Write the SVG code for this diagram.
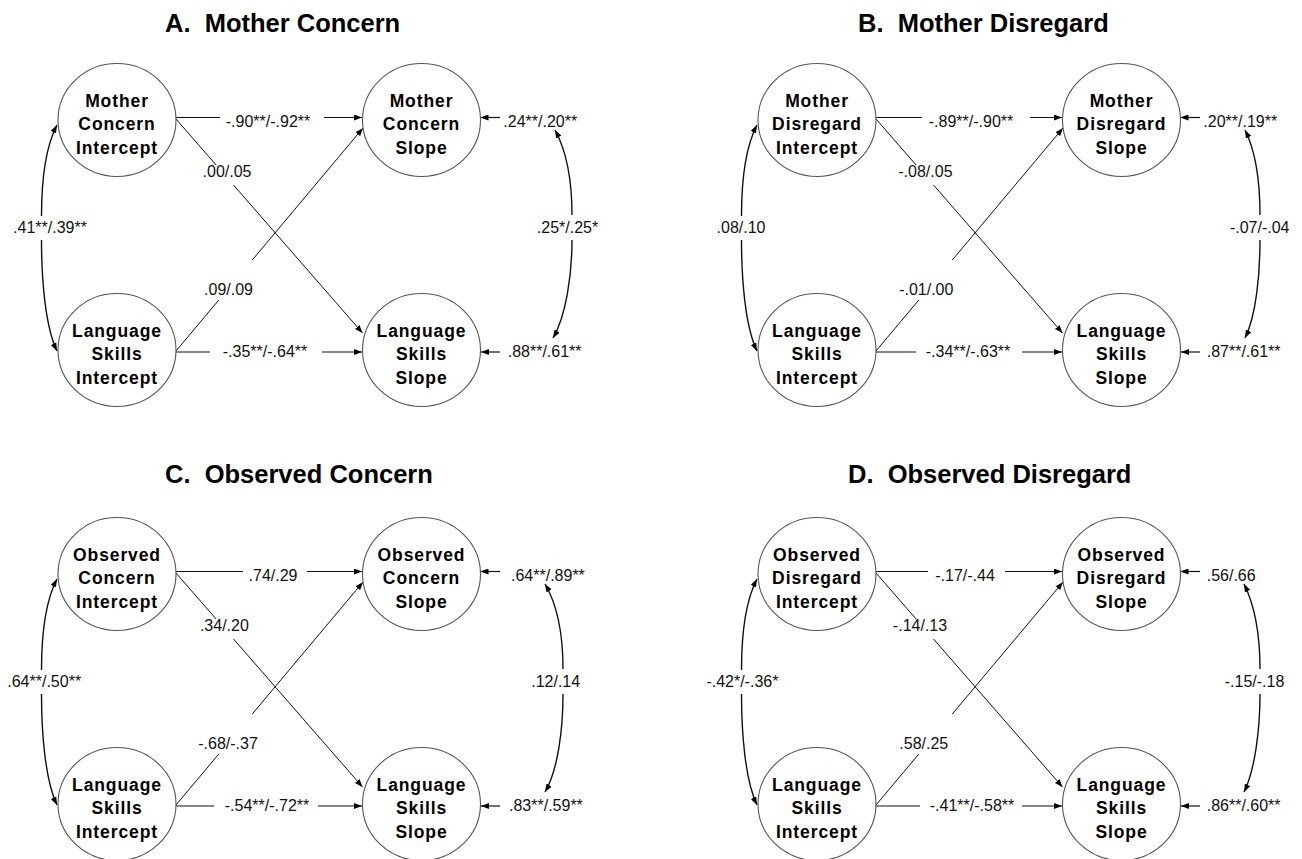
<svg xmlns="http://www.w3.org/2000/svg" width="1302" height="859" viewBox="0 0 1302 859">
<style>
.bg{fill:#fff}
.title{font-family:"Liberation Sans",Arial,sans-serif;font-weight:bold;font-size:25.5px;fill:#000}
.node ellipse{fill:#fff;stroke:#555;stroke-width:1.1}
.node text{font-family:"Liberation Sans",Arial,sans-serif;font-weight:bold;font-size:17.5px;letter-spacing:0.9px;fill:#000;text-anchor:middle}
.conn path{fill:none;stroke:#111;stroke-width:1.2}
.conn .d{stroke-width:1}
.conn .c{stroke-width:1.4}
.lbl{font-family:"Liberation Sans",Arial,sans-serif;font-size:16px;fill:#111}
.m{text-anchor:middle}
</style>
<defs>
<marker id="ah" viewBox="0 0 8 6" refX="8" refY="3" markerWidth="8" markerHeight="6" markerUnits="userSpaceOnUse" orient="auto-start-reverse"><path d="M0,0 L8,3 L0,6 z" fill="#000"/></marker>
</defs>
<rect class="bg" x="0" y="0" width="1302" height="859"/>

<!-- Panel A -->
<g id="panelA">
<text class="title" x="165" y="31.5" xml:space="preserve">A.  Mother Concern</text>
<g id="A-connectors" class="conn">
<path d="M176,117.5 H220 M324,117.5 H362" marker-end="url(#ah)"/>
<path d="M176,352 H210 M322,352 H362" marker-end="url(#ah)"/>
<path class="d" d="M176,119 L216.1,165"/>
<path class="d" d="M233.5,185 L362.5,333" marker-end="url(#ah)"/>
<path class="d" d="M176,351 L218.8,300"/>
<path class="d" d="M252.3,260 L363,128" marker-end="url(#ah)"/>
<path class="c" d="M57,125 C45,148 41.5,180 41.5,216" marker-start="url(#ah)"/>
<path class="c" d="M41.5,240 C41.5,278 45,326 57,351" marker-end="url(#ah)"/>
<path class="c" d="M555,130 C567,152 572,182 572,215" marker-start="url(#ah)"/>
<path class="c" d="M572,240 C572,275 566,316 553,338" marker-end="url(#ah)"/>
<path d="M500,117.5 H480.5" marker-end="url(#ah)"/>
<path d="M500,352 H481" marker-end="url(#ah)"/>
<text class="lbl m" x="268" y="126.5">-.90**/-.92**</text>
<text class="lbl m" x="265" y="357">-.35**/-.64**</text>
<text class="lbl m" x="227" y="176.7">.00/.05</text>
<text class="lbl m" x="228.5" y="295">.09/.09</text>
<text class="lbl m" x="50" y="233.3">.41**/.39**</text>
<text class="lbl m" x="567.5" y="233.3">.25*/.25*</text>
<text class="lbl" x="503.3" y="126.7">.24**/.20**</text>
<text class="lbl" x="507.7" y="356.7">.88**/.61**</text>
</g>
<g id="A-mother-concern-intercept" class="node"><ellipse cx="117" cy="120" rx="59" ry="56.5"/><text x="117" y="107">Mother</text><text x="117" y="130.3">Concern</text><text x="117" y="153.6">Intercept</text></g>
<g id="A-mother-concern-slope" class="node"><ellipse cx="421.5" cy="120" rx="59" ry="56.5"/><text x="421.5" y="107">Mother</text><text x="421.5" y="130.3">Concern</text><text x="421.5" y="153.6">Slope</text></g>
<g id="A-language-skills-intercept" class="node"><ellipse cx="117" cy="350" rx="59" ry="56.5"/><text x="117" y="337">Language</text><text x="117" y="360.3">Skills</text><text x="117" y="383.6">Intercept</text></g>
<g id="A-language-skills-slope" class="node"><ellipse cx="421.5" cy="350" rx="59" ry="56.5"/><text x="421.5" y="337">Language</text><text x="421.5" y="360.3">Skills</text><text x="421.5" y="383.6">Slope</text></g>
</g>

<!-- Panel B -->
<g id="panelB" transform="translate(700,0)">
<text class="title" x="158" y="31.5" xml:space="preserve">B.  Mother Disregard</text>
<g id="B-connectors" class="conn">
<path d="M176,117.5 H222 M330,117.5 H362" marker-end="url(#ah)"/>
<path d="M176,352 H216 M322,352 H362" marker-end="url(#ah)"/>
<path class="d" d="M176,119 L216.1,165"/>
<path class="d" d="M233.5,185 L362.5,333" marker-end="url(#ah)"/>
<path class="d" d="M176,351 L218.8,300"/>
<path class="d" d="M252.3,260 L363,128" marker-end="url(#ah)"/>
<path class="c" d="M57,125 C45,148 41.5,180 41.5,216" marker-start="url(#ah)"/>
<path class="c" d="M41.5,240 C41.5,278 45,326 57,351" marker-end="url(#ah)"/>
<path class="c" d="M545,130 C556,152 560,182 560,215" marker-start="url(#ah)"/>
<path class="c" d="M560,240 C560,275 556,316 545,338" marker-end="url(#ah)"/>
<path d="M500,117.5 H480.5" marker-end="url(#ah)"/>
<path d="M500,352 H481" marker-end="url(#ah)"/>
<text class="lbl m" x="271" y="126.5">-.89**/-.90**</text>
<text class="lbl m" x="268" y="357">-.34**/-.63**</text>
<text class="lbl m" x="225.4" y="176.7">-.08/.05</text>
<text class="lbl m" x="226.3" y="295">-.01/.00</text>
<text class="lbl m" x="41" y="233.3">.08/.10</text>
<text class="lbl m" x="559.7" y="233.3">-.07/-.04</text>
<text class="lbl" x="503.3" y="126.7">.20**/.19**</text>
<text class="lbl" x="506.7" y="356.7">.87**/.61**</text>
</g>
<g id="B-mother-disregard-intercept" class="node"><ellipse cx="117" cy="120" rx="59" ry="56.5"/><text x="117" y="107">Mother</text><text x="117" y="130.3">Disregard</text><text x="117" y="153.6">Intercept</text></g>
<g id="B-mother-disregard-slope" class="node"><ellipse cx="421.5" cy="120" rx="59" ry="56.5"/><text x="421.5" y="107">Mother</text><text x="421.5" y="130.3">Disregard</text><text x="421.5" y="153.6">Slope</text></g>
<g id="B-language-skills-intercept" class="node"><ellipse cx="117" cy="350" rx="59" ry="56.5"/><text x="117" y="337">Language</text><text x="117" y="360.3">Skills</text><text x="117" y="383.6">Intercept</text></g>
<g id="B-language-skills-slope" class="node"><ellipse cx="421.5" cy="350" rx="59" ry="56.5"/><text x="421.5" y="337">Language</text><text x="421.5" y="360.3">Skills</text><text x="421.5" y="383.6">Slope</text></g>
</g>

<!-- Panel C -->
<g id="panelC" transform="translate(0,454)">
<text class="title" x="165" y="29" xml:space="preserve">C.  Observed Concern</text>
<g id="C-connectors" class="conn">
<path d="M176,117.5 H243 M307,117.5 H362" marker-end="url(#ah)"/>
<path d="M176,352 H214 M318,352 H362" marker-end="url(#ah)"/>
<path class="d" d="M176,119 L216.1,165"/>
<path class="d" d="M233.5,185 L362.5,333" marker-end="url(#ah)"/>
<path class="d" d="M176,351 L218.8,300"/>
<path class="d" d="M252.3,260 L363,128" marker-end="url(#ah)"/>
<path class="c" d="M57,125 C45,148 41.5,180 41.5,216" marker-start="url(#ah)"/>
<path class="c" d="M41.5,240 C41.5,278 45,326 57,351" marker-end="url(#ah)"/>
<path class="c" d="M545,130 C558,152 563,182 563,215" marker-start="url(#ah)"/>
<path class="c" d="M563,240 C563,275 558,316 545,338" marker-end="url(#ah)"/>
<path d="M500,117.5 H480.5" marker-end="url(#ah)"/>
<path d="M500,352 H481" marker-end="url(#ah)"/>
<text class="lbl m" x="273" y="126.5">.74/.29</text>
<text class="lbl m" x="267" y="357">-.54**/-.72**</text>
<text class="lbl m" x="224.4" y="176.7">.34/.20</text>
<text class="lbl m" x="228" y="295">-.68/-.37</text>
<text class="lbl m" x="44.2" y="233.3">.64**/.50**</text>
<text class="lbl m" x="555.7" y="233.3">.12/.14</text>
<text class="lbl" x="511" y="126.7">.64**/.89**</text>
<text class="lbl" x="509" y="356.7">.83**/.59**</text>
</g>
<g id="C-observed-concern-intercept" class="node"><ellipse cx="117" cy="120" rx="59" ry="56.5"/><text x="117" y="107">Observed</text><text x="117" y="130.3">Concern</text><text x="117" y="153.6">Intercept</text></g>
<g id="C-observed-concern-slope" class="node"><ellipse cx="421.5" cy="120" rx="59" ry="56.5"/><text x="421.5" y="107">Observed</text><text x="421.5" y="130.3">Concern</text><text x="421.5" y="153.6">Slope</text></g>
<g id="C-language-skills-intercept" class="node"><ellipse cx="117" cy="350" rx="59" ry="56.5"/><text x="117" y="337">Language</text><text x="117" y="360.3">Skills</text><text x="117" y="383.6">Intercept</text></g>
<g id="C-language-skills-slope" class="node"><ellipse cx="421.5" cy="350" rx="59" ry="56.5"/><text x="421.5" y="337">Language</text><text x="421.5" y="360.3">Skills</text><text x="421.5" y="383.6">Slope</text></g>
</g>

<!-- Panel D -->
<g id="panelD" transform="translate(700,454)">
<text class="title" x="148" y="29" xml:space="preserve">D.  Observed Disregard</text>
<g id="D-connectors" class="conn">
<path d="M176,117.5 H228 M305,117.5 H362" marker-end="url(#ah)"/>
<path d="M176,352 H220 M322,352 H362" marker-end="url(#ah)"/>
<path class="d" d="M176,119 L216.1,165"/>
<path class="d" d="M233.5,185 L362.5,333" marker-end="url(#ah)"/>
<path class="d" d="M176,351 L218.8,300"/>
<path class="d" d="M252.3,260 L363,128" marker-end="url(#ah)"/>
<path class="c" d="M57,125 C45,148 41.5,180 41.5,216" marker-start="url(#ah)"/>
<path class="c" d="M41.5,240 C41.5,278 45,326 57,351" marker-end="url(#ah)"/>
<path class="c" d="M544,130 C555,152 560,182 560,215" marker-start="url(#ah)"/>
<path class="c" d="M560,240 C560,275 555,316 544,338" marker-end="url(#ah)"/>
<path d="M500,117.5 H480.5" marker-end="url(#ah)"/>
<path d="M500,352 H481" marker-end="url(#ah)"/>
<text class="lbl m" x="265" y="126.5">-.17/-.44</text>
<text class="lbl m" x="272" y="357">-.41**/-.58**</text>
<text class="lbl m" x="220" y="176.7">-.14/.13</text>
<text class="lbl m" x="223.8" y="295">.58/.25</text>
<text class="lbl m" x="42.4" y="233.3">-.42*/-.36*</text>
<text class="lbl m" x="554.5" y="233.3">-.15/-.18</text>
<text class="lbl" x="506.7" y="126.7">.56/.66</text>
<text class="lbl" x="506.7" y="356.7">.86**/.60**</text>
</g>
<g id="D-observed-disregard-intercept" class="node"><ellipse cx="117" cy="120" rx="59" ry="56.5"/><text x="117" y="107">Observed</text><text x="117" y="130.3">Disregard</text><text x="117" y="153.6">Intercept</text></g>
<g id="D-observed-disregard-slope" class="node"><ellipse cx="421.5" cy="120" rx="59" ry="56.5"/><text x="421.5" y="107">Observed</text><text x="421.5" y="130.3">Disregard</text><text x="421.5" y="153.6">Slope</text></g>
<g id="D-language-skills-intercept" class="node"><ellipse cx="117" cy="350" rx="59" ry="56.5"/><text x="117" y="337">Language</text><text x="117" y="360.3">Skills</text><text x="117" y="383.6">Intercept</text></g>
<g id="D-language-skills-slope" class="node"><ellipse cx="421.5" cy="350" rx="59" ry="56.5"/><text x="421.5" y="337">Language</text><text x="421.5" y="360.3">Skills</text><text x="421.5" y="383.6">Slope</text></g>
</g>
</svg>
